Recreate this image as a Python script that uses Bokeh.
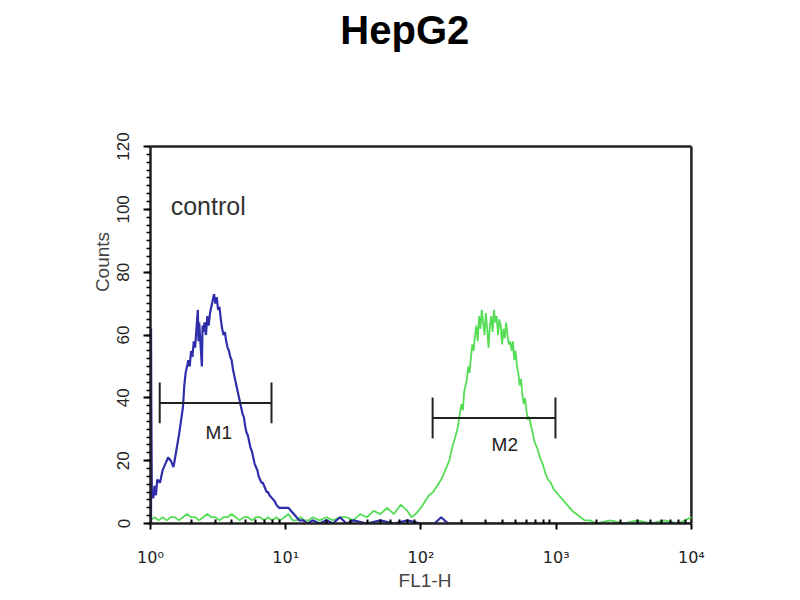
import numpy as np
from bokeh.plotting import figure
from bokeh.models import Range1d, FixedTicker, SingleIntervalTicker
from bokeh.core.properties import value
from bokeh.embed import file_html
from bokeh.resources import INLINE

# control histogram (blue): log10(FL1-H) position, counts
ctrl_log = [0.004, 0.004, 0.006, 0.01, 0.02, 0.03, 0.04, 0.05, 0.07, 0.09, 0.11, 0.13, 0.15,
            0.17, 0.19, 0.21, 0.22, 0.24, 0.25, 0.26, 0.27, 0.28, 0.29, 0.30, 0.31, 0.32,
            0.33, 0.34, 0.35, 0.355, 0.36, 0.37, 0.38, 0.385, 0.39, 0.40, 0.41, 0.42,
            0.43, 0.44, 0.45, 0.46, 0.47, 0.48, 0.49, 0.50, 0.51, 0.52, 0.53, 0.54, 0.55,
            0.56, 0.57, 0.58, 0.59, 0.60, 0.61, 0.62, 0.63, 0.64, 0.65, 0.66, 0.67, 0.68,
            0.69, 0.70, 0.71, 0.72, 0.73, 0.74, 0.75, 0.76, 0.77, 0.78, 0.79, 0.80, 0.81,
            0.82, 0.83, 0.84, 0.85, 0.86, 0.87, 0.88, 0.90, 0.92, 0.93, 0.95, 0.97, 1.00,
            1.02, 1.04, 1.06, 1.08, 1.10, 1.13, 1.16, 1.20, 1.25, 1.30, 1.35, 1.40, 1.45,
            1.50, 1.60, 1.70, 1.80, 1.90, 2.00, 2.10, 2.15, 2.20, 2.25, 2.40, 2.60, 2.80,
            3.00, 3.20, 3.40, 3.60, 3.80, 4.00]
ctrl_counts = [0, 62, 37, 10, 8, 12, 9, 14, 13, 17, 19, 21, 20,
               18, 23, 28, 31, 37, 44, 48, 50, 52, 50, 55, 53, 58,
               56, 62, 68, 58, 64, 57, 50, 63, 61, 64, 60, 66,
               63, 67, 69, 71, 73, 70, 72, 68, 69, 65, 62, 60, 61,
               58, 56, 55, 53, 52, 49, 47, 45, 43, 41, 39, 37, 35,
               34, 31, 29, 28, 26, 24, 23, 21, 19, 18, 17, 15, 14,
               13, 13, 12, 11, 10, 10, 9, 8, 7, 6, 5, 5, 5,
               5, 4, 3, 2, 1, 1, 0, 1, 0, 1, 0, 2, 0,
               1, 0, 1, 0, 1, 0, 0, 2, 0, 0, 0, 0, 0,
               0, 0, 0, 0, 0, 0]

# sample histogram (green)
smp_log = [0.00, 0.03, 0.06, 0.09, 0.12, 0.15, 0.18, 0.21, 0.24, 0.27, 0.30, 0.33, 0.36,
           0.39, 0.42, 0.45, 0.48, 0.51, 0.54, 0.57, 0.60, 0.63, 0.66, 0.69, 0.72, 0.75,
           0.78, 0.81, 0.84, 0.87, 0.90, 0.93, 0.96, 0.99, 1.02, 1.05, 1.08, 1.11, 1.14,
           1.17, 1.20, 1.25, 1.30, 1.35, 1.40, 1.45, 1.50, 1.55, 1.60, 1.65, 1.70, 1.75,
           1.80, 1.85, 1.90, 1.93, 1.96, 2.00, 2.03, 2.06, 2.09, 2.12, 2.15, 2.18, 2.21,
           2.23, 2.25, 2.27, 2.28, 2.30, 2.31, 2.32, 2.34, 2.35, 2.36, 2.37, 2.38, 2.39,
           2.40, 2.41, 2.42, 2.43, 2.44, 2.45, 2.46, 2.47, 2.48, 2.49, 2.50, 2.51, 2.52,
           2.53, 2.54, 2.55, 2.56, 2.57, 2.58, 2.59, 2.60, 2.61, 2.62, 2.63, 2.64, 2.65,
           2.66, 2.67, 2.68, 2.69, 2.70, 2.71, 2.72, 2.73, 2.74, 2.75, 2.76, 2.77, 2.78,
           2.79, 2.80, 2.82, 2.84, 2.86, 2.88, 2.90, 2.92, 2.94, 2.96, 2.98, 3.00, 3.02,
           3.04, 3.06, 3.08, 3.10, 3.12, 3.15, 3.18, 3.21, 3.25, 3.30, 3.40, 3.50, 3.60,
           3.70, 3.80, 3.90, 4.00]
smp_counts = [1, 2, 1, 2, 1, 2, 2, 1, 2, 3, 2, 2, 1,
              2, 3, 2, 2, 1, 2, 2, 3, 2, 1, 2, 2, 1,
              2, 2, 1, 2, 1, 2, 1, 2, 3, 1, 1, 2, 1,
              1, 2, 1, 2, 1, 2, 2, 1, 3, 2, 4, 3, 5,
              3, 6, 4, 2, 3, 5, 7, 9, 10, 12, 14, 17, 20,
              24, 27, 30, 33, 38, 36, 42, 46, 50, 48, 53, 57, 55,
              60, 63, 58, 66, 62, 68, 64, 60, 67, 62, 56, 63, 66,
              61, 68, 64, 66, 60, 65, 63, 57, 62, 59, 64, 60, 57,
              58, 55, 58, 52, 55, 50, 48, 44, 46, 41, 38, 40, 36,
              33, 34, 30, 26, 24, 21, 19, 16, 14, 13, 11, 10, 9,
              8, 7, 6, 5, 4, 3, 2, 1, 1, 0, 1, 0, 1,
              0, 1, 0, 2]

# marker gates: start, end (FL1-H), level (counts)
gate_names = ["M1", "M2"]
gate_start = [1.17, 122.0]
gate_end = [7.85, 988.0]
gate_level = [38.4, 33.6]
gate_label_x = [3.2, 417.0]
gate_label_y = [29.0, 25.0]

x_ticks = [1, 10, 100, 1000, 10000]
x_tick_labels = ["10⁰", "10¹", "10²", "10³", "10⁴"]
y_ticks = [0, 20, 40, 60, 80, 100, 120]

FONT = "Liberation Sans"
X_MIN, X_MAX = x_ticks[0], x_ticks[-1]
Y_MIN, Y_MAX = y_ticks[0], y_ticks[-1]

# the frame is stretched up (room for the title) and a little to the right
# (so the right border line is not clipped); the box is drawn by hand
p = figure(width=784, height=596, x_axis_type="log",
           x_range=Range1d(X_MIN, 10 ** 4.06), y_range=Range1d(Y_MIN, 166.5),
           output_backend="svg", toolbar_location=None,
           min_border_left=150, min_border_right=85,
           min_border_top=0, min_border_bottom=73)

p.grid.visible = False
p.outline_line_color = None

# box top and right
p.segment([X_MIN, X_MAX], [Y_MAX, Y_MIN], [X_MAX, X_MAX], [Y_MAX, Y_MAX],
          line_color="#222222", line_width=2.5)

# curves
p.line(10 ** np.array(smp_log), smp_counts, line_color="#55dd55", line_width=1.8)
p.line(10 ** np.array(ctrl_log), ctrl_counts, line_color="#2e2eaa", line_width=2.2)

# gates
half = 6.5
p.segment(gate_start, gate_level, gate_end, gate_level, line_color="#222222", line_width=2)
p.segment(gate_start, [v - half for v in gate_level], gate_start,
          [v + half for v in gate_level], line_color="#222222", line_width=2)
p.segment(gate_end, [v - half for v in gate_level], gate_end,
          [v + half for v in gate_level], line_color="#222222", line_width=2)
p.text(gate_label_x, gate_label_y, text=gate_names, text_font=value(FONT),
       text_font_size="19px", text_align="center", text_baseline="middle",
       text_color="#222222")

p.text([1.41], [101], text=["control"], text_font=value(FONT),
       text_font_size="25px", text_align="left", text_baseline="middle",
       text_color="#333333")

# title
p.text([76], [157.2], text=["HepG2"], text_font=value(FONT),
       text_font_size="40px", text_font_style="bold", text_align="center",
       text_baseline="middle", text_color="black")

# x axis
xa = p.xaxis[0]
xa.bounds = (X_MIN, X_MAX)
xa.ticker = FixedTicker(ticks=x_ticks,
                        minor_ticks=[m * 10 ** d for d in range(4) for m in range(2, 10)])
xa.major_label_overrides = dict(zip(x_ticks, x_tick_labels))
xa.axis_label = "FL1-H"
xa.axis_label_text_font = FONT
xa.axis_label_text_font_size = "19px"
xa.axis_label_text_font_style = "normal"
xa.axis_label_standoff = 0
xa.major_label_text_font = "DejaVu Sans"
xa.major_label_text_font_size = "16px"
xa.major_label_text_color = "#222222"
xa.major_label_standoff = 18
xa.axis_line_width = 2.5
xa.axis_line_color = "#222222"
xa.major_tick_out = 6
xa.major_tick_in = 0
xa.minor_tick_in = 4
xa.minor_tick_out = 0
xa.major_tick_line_width = 2
xa.minor_tick_line_width = 2

# y axis
ya = p.yaxis[0]
ya.bounds = (Y_MIN, Y_MAX)
ya.ticker = SingleIntervalTicker(interval=20, num_minor_ticks=8)
ya.axis_label = "Counts"
ya.axis_label_text_font = FONT
ya.axis_label_text_font_size = "19px"
ya.axis_label_text_font_style = "normal"
ya.axis_label_standoff = 2
ya.major_label_text_font = FONT
ya.major_label_text_font_size = "17px"
ya.major_label_text_color = "#222222"
ya.major_label_orientation = "vertical"
ya.major_label_standoff = 14
ya.axis_line_width = 2.5
ya.axis_line_color = "#222222"
ya.major_tick_out = 7
ya.major_tick_in = 0
ya.minor_tick_out = 4
ya.minor_tick_in = 0
ya.major_tick_line_width = 2
ya.minor_tick_line_width = 1.5

open("out.html", "w").write(file_html(p, INLINE))
